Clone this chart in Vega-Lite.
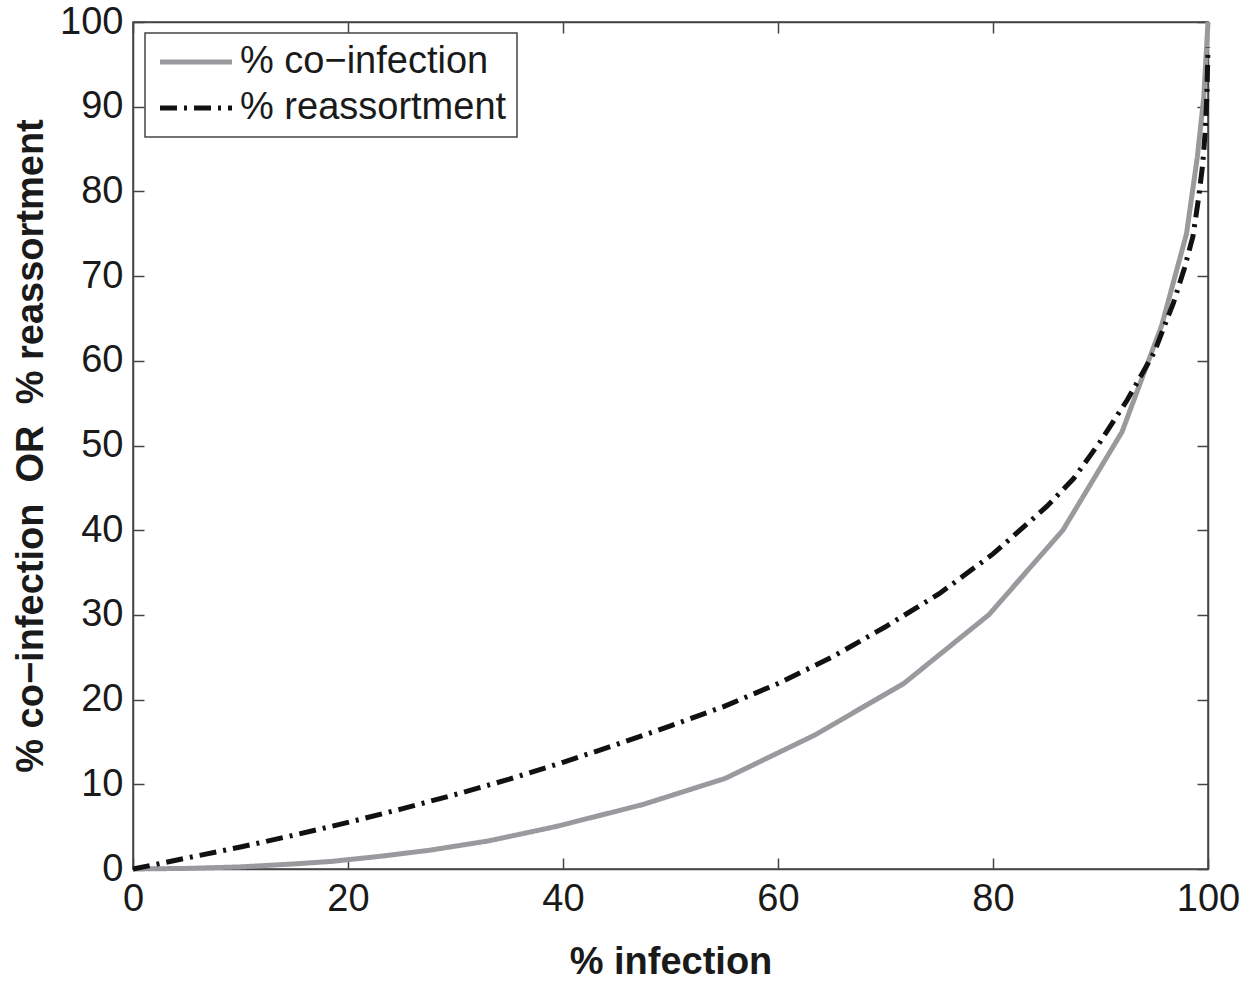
{
  "$schema": "https://vega.github.io/schema/vega-lite/v6.json",
  "width": 1075,
  "height": 847,
  "autosize": "none",
  "padding": {"left": 133, "top": 22, "right": 51, "bottom": 114},
  "background": "white",
  "config": {
    "view": {"stroke": "#444", "strokeWidth": 1.5},
    "font": "Liberation Sans",
    "axis": {
      "grid": false,
      "domainColor": "#444",
      "domainWidth": 1.5,
      "tickColor": "#444",
      "tickWidth": 1.5,
      "tickSize": -11,
      "labelFlush": false,
      "labelOverlap": false,
      "labelFont": "Liberation Sans",
      "labelFontSize": 38,
      "labelColor": "#1a1a1a",
      "titleFont": "Liberation Sans",
      "titleFontSize": 38,
      "titleFontWeight": "bold",
      "titleColor": "#1a1a1a"
    },
    "legend": {
      "orient": "none",
      "legendX": 12,
      "legendY": 11,
      "strokeColor": "#444",
      "strokeWidth": 1.5,
      "fillColor": "white",
      "padding": 10,
      "symbolType": "M-3,0H3",
      "symbolSize": 576,
      "symbolOffset": 22,
      "symbolStrokeWidth": 5,
      "labelFont": "Liberation Sans",
      "labelFontSize": 38,
      "labelColor": "#1a1a1a",
      "labelOffset": 25,
      "labelLimit": 0,
      "rowPadding": 8
    }
  },
  "datasets": {
    "curves": [
      {"pct_infection": 0, "value": 0, "series": "% co−infection"},
      {"pct_infection": 5, "value": 0.07, "series": "% co−infection"},
      {"pct_infection": 10, "value": 0.25, "series": "% co−infection"},
      {"pct_infection": 15, "value": 0.6, "series": "% co−infection"},
      {"pct_infection": 18.5, "value": 0.9, "series": "% co−infection"},
      {"pct_infection": 23, "value": 1.5, "series": "% co−infection"},
      {"pct_infection": 27.5, "value": 2.2, "series": "% co−infection"},
      {"pct_infection": 33, "value": 3.3, "series": "% co−infection"},
      {"pct_infection": 39.3, "value": 5.0, "series": "% co−infection"},
      {"pct_infection": 47.4, "value": 7.6, "series": "% co−infection"},
      {"pct_infection": 55.1, "value": 10.7, "series": "% co−infection"},
      {"pct_infection": 63.4, "value": 15.8, "series": "% co−infection"},
      {"pct_infection": 71.7, "value": 21.9, "series": "% co−infection"},
      {"pct_infection": 79.6, "value": 30.0, "series": "% co−infection"},
      {"pct_infection": 86.5, "value": 40.0, "series": "% co−infection"},
      {"pct_infection": 92.0, "value": 51.6, "series": "% co−infection"},
      {"pct_infection": 95.7, "value": 64.2, "series": "% co−infection"},
      {"pct_infection": 98.0, "value": 75.0, "series": "% co−infection"},
      {"pct_infection": 99.0, "value": 84.0, "series": "% co−infection"},
      {"pct_infection": 99.6, "value": 91.0, "series": "% co−infection"},
      {"pct_infection": 100, "value": 100, "series": "% co−infection"},
      {"pct_infection": 0, "value": 0, "series": "% reassortment"},
      {"pct_infection": 5, "value": 1.3, "series": "% reassortment"},
      {"pct_infection": 10, "value": 2.6, "series": "% reassortment"},
      {"pct_infection": 15, "value": 4.0, "series": "% reassortment"},
      {"pct_infection": 20, "value": 5.5, "series": "% reassortment"},
      {"pct_infection": 25, "value": 7.1, "series": "% reassortment"},
      {"pct_infection": 30, "value": 8.8, "series": "% reassortment"},
      {"pct_infection": 35, "value": 10.6, "series": "% reassortment"},
      {"pct_infection": 40, "value": 12.6, "series": "% reassortment"},
      {"pct_infection": 45, "value": 14.7, "series": "% reassortment"},
      {"pct_infection": 50, "value": 16.9, "series": "% reassortment"},
      {"pct_infection": 55, "value": 19.2, "series": "% reassortment"},
      {"pct_infection": 60, "value": 21.9, "series": "% reassortment"},
      {"pct_infection": 65, "value": 25.0, "series": "% reassortment"},
      {"pct_infection": 70, "value": 28.6, "series": "% reassortment"},
      {"pct_infection": 75, "value": 32.5, "series": "% reassortment"},
      {"pct_infection": 80, "value": 37.2, "series": "% reassortment"},
      {"pct_infection": 85, "value": 42.8, "series": "% reassortment"},
      {"pct_infection": 87.5, "value": 46.1, "series": "% reassortment"},
      {"pct_infection": 90, "value": 50.5, "series": "% reassortment"},
      {"pct_infection": 92.5, "value": 55.4, "series": "% reassortment"},
      {"pct_infection": 95, "value": 61.0, "series": "% reassortment"},
      {"pct_infection": 96.8, "value": 66.9, "series": "% reassortment"},
      {"pct_infection": 97.8, "value": 70.9, "series": "% reassortment"},
      {"pct_infection": 98.6, "value": 74.7, "series": "% reassortment"},
      {"pct_infection": 99.1, "value": 79.0, "series": "% reassortment"},
      {"pct_infection": 99.5, "value": 83.1, "series": "% reassortment"},
      {"pct_infection": 99.75, "value": 87.2, "series": "% reassortment"},
      {"pct_infection": 99.9, "value": 91.5, "series": "% reassortment"},
      {"pct_infection": 100, "value": 97, "series": "% reassortment"}
    ]
  },
  "data": {"name": "curves"},
  "layer": [
    {
      "mark": {"type": "line", "strokeWidth": 5, "interpolate": "linear"},
      "encoding": {
        "x": {
          "field": "pct_infection", "type": "quantitative",
          "scale": {"domain": [0, 100], "nice": false, "zero": false},
          "axis": {"orient": "bottom", "values": [0, 20, 40, 60, 80, 100], "title": "% infection", "labelPadding": 22, "titlePadding": 25}
        },
        "y": {
          "field": "value", "type": "quantitative",
          "scale": {"domain": [0, 100], "nice": false, "zero": false},
          "axis": {"orient": "left", "values": [0, 10, 20, 30, 40, 50, 60, 70, 80, 90, 100], "title": "% co−infection\u00a0\u00a0OR\u00a0\u00a0% reassortment", "labelPadding": 21, "titlePadding": 9}
        },
        "color": {
          "field": "series", "type": "nominal",
          "scale": {"domain": ["% co−infection", "% reassortment"], "range": ["#9a9a9e", "#111111"]},
          "legend": {"title": null}
        },
        "strokeDash": {
          "field": "series", "type": "nominal",
          "scale": {"domain": ["% co−infection", "% reassortment"], "range": [[1, 0], [17, 7, 3, 7]]},
          "legend": {"title": null}
        }
      }
    },
    {
      "mark": {"type": "line", "opacity": 0},
      "encoding": {
        "x": {
          "field": "pct_infection", "type": "quantitative",
          "axis": {"orient": "top", "values": [0, 20, 40, 60, 80, 100], "labels": false, "title": null}
        },
        "y": {
          "field": "value", "type": "quantitative",
          "axis": {"orient": "right", "values": [0, 10, 20, 30, 40, 50, 60, 70, 80, 90, 100], "labels": false, "title": null}
        },
        "detail": {"field": "series"}
      }
    }
  ],
  "resolve": {"axis": {"x": "independent", "y": "independent"}}
}
